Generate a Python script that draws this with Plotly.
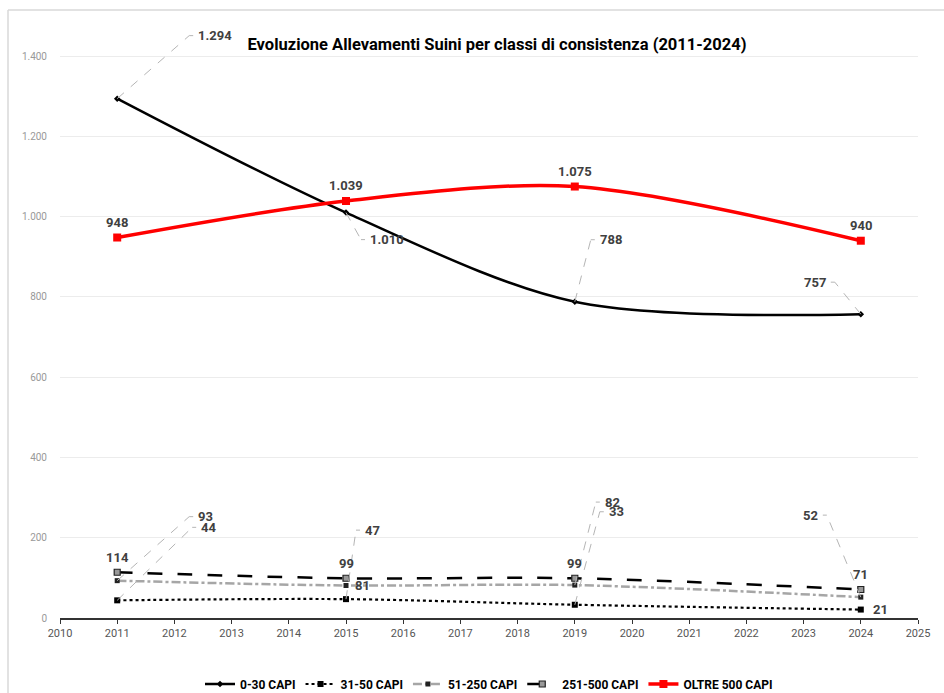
import plotly.graph_objects as go

# Anni di rilevazione e numero di allevamenti per classe di consistenza
years = [2011, 2015, 2019, 2024]
cap_0_30 = [1294, 1010, 788, 757]
cap_31_50 = [44, 47, 33, 21]
cap_51_250 = [93, 81, 82, 52]
cap_251_500 = [114, 99, 99, 71]
cap_oltre_500 = [948, 1039, 1075, 940]

series_names = ["0-30 CAPI", "31-50 CAPI", "51-250 CAPI", "251-500 CAPI", "OLTRE 500 CAPI"]
y_ticks = [0, 200, 400, 600, 800, 1000, 1200, 1400]
y_tick_text = ["0", "200", "400", "600", "800", "1.000", "1.200", "1.400"]
x_ticks = list(range(2010, 2026))


def fmt(v):
    return f"{v:,}".replace(",", ".")


styles = [
    dict(line=dict(color="black", width=2.5, dash="solid"),
         marker=dict(symbol="diamond", size=5, color="black")),
    dict(line=dict(color="black", width=2.2, dash="dot"),
         marker=dict(symbol="square", size=6, color="black")),
    dict(line=dict(color="#a6a6a6", width=2.5, dash="dashdot"),
         marker=dict(symbol="square", size=5, color="#222222")),
    dict(line=dict(color="black", width=2.5, dash="longdash"),
         marker=dict(symbol="square", size=6, color="#999999",
                     line=dict(color="#222222", width=1.2))),
    dict(line=dict(color="#ff0000", width=3.5, dash="solid"),
         marker=dict(symbol="square", size=8, color="#ff0000")),
]
data = [cap_0_30, cap_31_50, cap_51_250, cap_251_500, cap_oltre_500]

fig = go.Figure()
for name, vals, st in zip(series_names, data, styles):
    fig.add_trace(go.Scatter(
        x=years, y=vals, name=name, mode="lines+markers",
        line=dict(shape="spline", smoothing=0.9, **st["line"]),
        marker=st["marker"], cliponaxis=False,
    ))

label_font = dict(family="Roboto", size=13, color="#404040")
leader = dict(color="#b5b5b5", width=1, dash="dash")

# Etichette sopra il punto
above = [
    (cap_oltre_500, 0), (cap_oltre_500, 1), (cap_oltre_500, 2), (cap_oltre_500, 3),
    (cap_251_500, 0), (cap_251_500, 1), (cap_251_500, 2), (cap_251_500, 3),
]
for vals, i in above:
    fig.add_annotation(x=years[i], y=vals[i], text=f"<b>{fmt(vals[i])}</b>",
                       showarrow=False, font=label_font, yshift=15,
                       xanchor="center", yanchor="middle")

# Etichette a destra del punto
right = [(cap_51_250, 1, 7), (cap_31_50, 3, 10)]
for vals, i, dx in right:
    fig.add_annotation(x=years[i], y=vals[i], text=f"<b>{fmt(vals[i])}</b>",
                       showarrow=False, font=label_font, xshift=dx,
                       xanchor="left", yanchor="middle")

# Etichette spostate con linea di richiamo: (serie, indice, dx, dy, verso)
callouts = [
    (cap_0_30, 0, 72, 63, 1),
    (cap_0_30, 1, 15, -27, 1),
    (cap_0_30, 2, 16, 62, 1),
    (cap_0_30, 3, -26, 32, -1),
    (cap_51_250, 0, 72, 64, 1),
    (cap_31_50, 0, 75, 73, 1),
    (cap_31_50, 1, 10, 69, 1),
    (cap_51_250, 2, 21, 83, 1),
    (cap_31_50, 2, 25, 93, 1),
    (cap_51_250, 3, -34, 82, -1),
]
for vals, i, dx, dy, side in callouts:
    xv, yv = years[i], vals[i]
    fig.add_shape(type="line", xref="x", yref="y",
                  xsizemode="pixel", ysizemode="pixel",
                  xanchor=xv, yanchor=yv, x0=0, y0=0, x1=dx, y1=dy,
                  line=leader, layer="above")
    fig.add_shape(type="line", xref="x", yref="y",
                  xsizemode="pixel", ysizemode="pixel",
                  xanchor=xv, yanchor=yv, x0=dx, y0=dy, x1=dx + 4 * side, y1=dy,
                  line=leader, layer="above")
    fig.add_annotation(x=xv, y=yv, text=f"<b>{fmt(yv)}</b>", showarrow=False,
                       font=label_font, xshift=dx + 7 * side, yshift=dy,
                       xanchor="left" if side > 0 else "right", yanchor="middle")

# Cornice del riquadro
frame = dict(color="#d9d9d9", width=1.5)
fig.add_shape(type="line", xref="paper", yref="paper",
              x0=-0.0606, x1=-0.0606, y0=1.034, y1=-0.2, line=frame)
fig.add_shape(type="line", xref="paper", yref="paper",
              x0=-0.0606, x1=1.1, y0=1.034, y1=1.034, line=frame)

fig.update_layout(
    width=944, height=693,
    margin=dict(l=60, r=26, t=30, b=75, autoexpand=False),
    paper_bgcolor="white", plot_bgcolor="white",
    font=dict(family="Roboto", color="#333333"),
    title=dict(text="<b>Evoluzione Allevamenti Suini per classi di consistenza (2011-2024)</b>",
               x=497 / 944, xanchor="center", y=1 - 44 / 693, yanchor="middle",
               font=dict(family="Roboto", size=16.5, color="black")),
    showlegend=True,
    legend=dict(orientation="h", x=0.5, xanchor="center",
                yref="container", y=(693 - 684) / 693, yanchor="middle",
                font=dict(family="Roboto", size=12, color="black", weight="bold"),
                itemwidth=30, tracegroupgap=0),
)
fig.update_xaxes(range=[2010, 2025], tickvals=x_ticks, ticktext=[str(t) for t in x_ticks],
                 showgrid=False, zeroline=False, showline=True, linecolor="#333333",
                 linewidth=1.5, ticks="outside", ticklen=4, tickcolor="#333333",
                 tickfont=dict(family="Roboto", size=11, color="#555555"))
fig.update_yaxes(range=[0, 1465], tickvals=y_ticks, ticktext=y_tick_text,
                 showgrid=True, gridcolor="#ececec", gridwidth=1, zeroline=False,
                 showline=False, ticks="", ticklabelstandoff=12,
                 tickfont=dict(family="Roboto", size=10, color="#999999"))

fig.write_html("out.html")
